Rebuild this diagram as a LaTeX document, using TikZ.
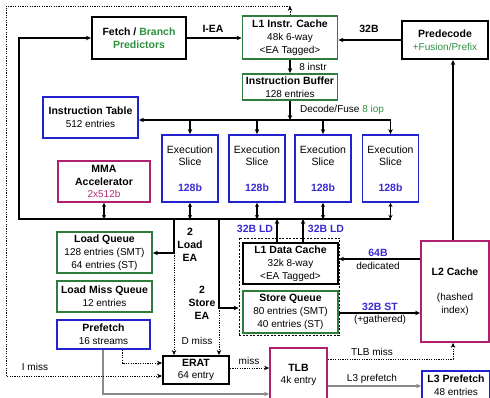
\documentclass[tikz,border=0pt]{standalone}
\usepackage{fontspec}
\setmainfont{Liberation Sans}
\usetikzlibrary{arrows.meta}
\definecolor{grn}{HTML}{2E7D3C}
\definecolor{gtxt}{HTML}{2E9140}
\definecolor{blu}{HTML}{2222D0}
\definecolor{btxt}{HTML}{3A2AD4}
\definecolor{mag}{HTML}{B0206E}
\definecolor{mtxt}{HTML}{B0307A}
\definecolor{gry}{HTML}{8A8A8A}
\newcommand\bt[1]{{\fontsize{10.5}{12.8}\selectfont\bfseries #1}}
\begin{document}
\begin{tikzpicture}[x=1pt,y=-1pt,
 base/.style={align=center, inner sep=0pt, font=\fontsize{10}{12.8}\selectfont},
 kbox/.style={base, draw=black, line width=2pt},
 gbox/.style={base, draw=grn, line width=1.8pt},
 bbox/.style={base, draw=blu, line width=1.8pt},
 mbox/.style={base, draw=mag, line width=1.8pt},
 slice/.style={bbox, minimum width=56pt, minimum height=67pt, font=\fontsize{10.5}{12.8}\selectfont},
 arr/.style={-{Stealth[length=5pt,width=4.5pt]}, line width=1.1pt},
 darr/.style={{Stealth[length=4pt,width=4pt]}-{Stealth[length=4pt,width=4pt]}, line width=1.1pt},
 dotarr/.style={dash pattern=on 1.2pt off 1.2pt, line width=0.7pt, -{Stealth[length=5pt,width=4.5pt]}},
 garr/.style={gry, line width=1.2pt, -{Stealth[length=5pt,width=4.5pt]}},
 lbl/.style={base},
 blbl/.style={base, font=\fontsize{10.5}{12.8}\selectfont\bfseries},
]
\useasboundingbox (0,0) rectangle (490,398);
\fill[white] (0,0) rectangle (490,398);

% dashed group box
\node[draw, dash pattern=on 2pt off 1.5pt, line width=0.7pt, minimum width=100pt, minimum height=97pt, inner sep=0pt] (dbox) at (289,286.5) {};

% boxes
\node[kbox, minimum width=94pt, minimum height=42pt] (fetch) at (139,38) {\bt{Fetch / \textcolor{gtxt}{Branch}}\\\bt{\textcolor{gtxt}{Predictors}}};
\node[gbox, minimum width=95pt, minimum height=43pt] (l1i) at (290,37.5) {\bt{L1 Instr. Cache}\\48k 6-way\\<EA Tagged>};
\node[kbox, minimum width=86pt, minimum height=38pt] (pred) at (445,40) {\bt{Predecode}\\\textcolor{gtxt}{+Fusion/Prefix}};
\node[gbox, minimum width=95pt, minimum height=26pt] (ib) at (290,87) {\bt{Instruction Buffer}\\128 entries};
\node[bbox, minimum width=95pt, minimum height=41pt] (it) at (90.5,117.5) {\bt{Instruction Table}\\512 entries};
\node[mbox, minimum width=92pt, minimum height=41pt] (mma) at (104,181.5) {\bt{MMA}\\\bt{Accelerator}\\\textcolor{mtxt}{2x512b}};
\node[slice] (s1) at (190,168.5) {Execution\\Slice\\~\\\textcolor{btxt}{\bt{128b}}};
\node[slice] (s2) at (257,168.5) {Execution\\Slice\\~\\\textcolor{btxt}{\bt{128b}}};
\node[slice] (s3) at (323,168.5) {Execution\\Slice\\~\\\textcolor{btxt}{\bt{128b}}};
\node[slice] (s4) at (390.5,168.5) {Execution\\Slice\\~\\\textcolor{btxt}{\bt{128b}}};
\node[gbox, minimum width=95pt, minimum height=41pt] (lq) at (104.5,252.5) {\bt{Load Queue}\\128 entries (SMT)\\64 entries (ST)};
\node[gbox, minimum width=95pt, minimum height=31pt] (lmq) at (104.5,296.5) {\bt{Load Miss Queue}\\12 entries};
\node[bbox, minimum width=93pt, minimum height=29pt] (pf) at (103.5,334.5) {\bt{Prefetch}\\16 streams};
\node[kbox, minimum width=95pt, minimum height=41pt] (l1d) at (290.5,263.5) {\bt{L1 Data Cache}\\32k 8-way\\<EA Tagged>};
\node[gbox, minimum width=95pt, minimum height=42pt] (sq) at (290.5,312) {\bt{Store Queue}\\80 entries (SMT)\\40 entries (ST)};
\node[mbox, minimum width=68pt, minimum height=101pt] (l2) at (455,291.5) {\bt{L2 Cache}\\~\\(hashed\\index)};
\node[kbox, minimum width=66pt, minimum height=28pt] (erat) at (196,370) {\bt{ERAT}\\64 entry};
\node[mbox, minimum width=57pt, minimum height=54pt] (tlb) at (298.5,375) {\bt{TLB}\\4k entry};
\node[bbox, minimum width=68pt, minimum height=29pt] (l3p) at (456,385.5) {\bt{L3 Prefetch}\\48 entries};

% coordinates
\coordinate (busA) at (390.5,120);
\coordinate (busB) at (19,219);
\coordinate (busC) at (390.5,219);
\coordinate (ldT) at (174,219);
\coordinate (ldC) at (174,253);
\coordinate (stT) at (219,219);
\coordinate (stC) at (219,308);
\coordinate (ld1) at (277,219);
\coordinate (ld2) at (303,219);
\coordinate (y64) at (0,259);
\coordinate (y32) at (0,313);
\coordinate (imTR) at (290,6);
\coordinate (imTL) at (6,6);
\coordinate (imBL) at (6,376);
\coordinate (pfA) at (122,363);
\coordinate (pfB) at (103,394);
\coordinate (ym) at (0,368);
\coordinate (tm) at (453,359);
\coordinate (y3) at (0,386);

% top connectors
\draw[arr] (fetch.east) -- (fetch.east -| l1i.west);
\draw[arr] (pred.west) -- (pred.west -| l1i.east);
\draw[arr] (l1i.south) -- (ib.north);
\draw[arr] (ib.south) -- (ib.south |- busA);
\draw[arr] (busA) -- (busA -| it.east);
\draw[arr] (s1.north |- busA) -- (s1.north);
\draw[arr] (s2.north |- busA) -- (s2.north);
\draw[arr] (s3.north |- busA) -- (s3.north);
\draw[arr] (busA) -- (s4.north);

% lower bus
\draw[arr] (busC) -- (busB) -- (busB |- fetch.west) -- (fetch.west);
\draw[darr] (mma.south) -- (mma.south |- busB);
\draw[darr] (s1.south) -- (s1.south |- busB);
\draw[darr] (s2.south) -- (s2.south |- busB);
\draw[darr] (s3.south) -- (s3.south |- busB);
\draw[darr] (s4.south) -- (busC);

% load / store EA
\draw[arr] (ldT) -- (ldC) -- (ldC -| lq.east);
\draw[dotarr] (ldC) -- (ldC |- erat.north);
\draw[arr] (stT) -- (stC) -- (stC -| dbox.west);
\draw[dotarr] (stC) -- (stC |- erat.north);

% 32B LD
\draw[arr] (ld1 |- l1d.north) -- (ld1);
\draw[arr] (ld2 |- l1d.north) -- (ld2);

% L2 connections
\draw[arr] (l2.west |- y64) -- (l1d.east |- y64);
\draw[arr] (sq.east |- y32) -- (l2.west |- y32);
\draw[arr] (tm |- l2.north) -- (tm |- pred.south);
\draw[dotarr] (tlb.east |- tm) -- (tm) -- (tm |- l2.south);
\draw[garr] (tlb.east |- y3) -- (l3p.west |- y3);
\draw[dotarr] (erat.east |- ym) -- (tlb.west |- ym);

% prefetch
\draw[dotarr] (pfA |- pf.south) -- (pfA) -- (pfA -| erat.west);
\draw[garr] (pfB |- pf.south) -- (pfB) -- (pfB -| tlb.west);

% I miss
\draw[dotarr] (imTR) -- (imTL) -- (imBL) -- (imBL -| erat.west);
\draw[dotarr] (l1i.north) -- (imTR);

% labels
\node[blbl] (lIEA) at (213,29) {I-EA};
\node[blbl] (l32B) at (369,29) {32B};
\node[lbl] (l8i) at (313,67) {8 instr};
\node[lbl] (ldf) at (342,110) {Decode/Fuse \textcolor{gtxt}{8 iop}};
\node[blbl] (lLEA) at (190,245) {2\\Load\\EA};
\node[blbl] (lSEA) at (202,303) {2\\Store\\EA};
\node[blbl, text=btxt] (lld1) at (255,229) {32B LD};
\node[blbl, text=btxt] (lld2) at (326,229) {32B LD};
\node[blbl, text=btxt] (l64) at (378,253) {64B};
\node[lbl] (ldd) at (378,266) {dedicated};
\node[blbl, text=btxt] (l32st) at (380,307) {32B ST};
\node[lbl] (lgath) at (380,320) {(+gathered)};
\node[lbl] (ldm) at (197,341) {D miss};
\node[lbl] (lim) at (35,367) {I miss};
\node[lbl] (lmiss) at (249,361) {miss};
\node[lbl] (ltm) at (372,352) {TLB miss};
\node[lbl] (ll3) at (372,379) {L3 prefetch};
\end{tikzpicture}
\end{document}
